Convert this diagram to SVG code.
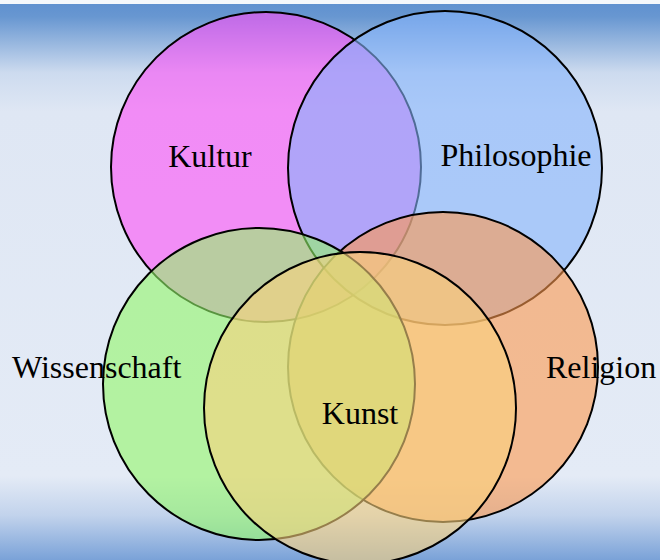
<svg xmlns="http://www.w3.org/2000/svg" width="660" height="560" viewBox="0 0 660 560">
  <defs>
    <linearGradient id="bg" x1="0" y1="0" x2="0" y2="1">
      <stop offset="0" stop-color="#5d8fcf"/>
      <stop offset="0.03" stop-color="#6897d1"/>
      <stop offset="0.13" stop-color="#cddbef"/>
      <stop offset="0.2" stop-color="#dfe7f4"/>
      <stop offset="0.85" stop-color="#e4ebf6"/>
      <stop offset="0.92" stop-color="#c2d3ec"/>
      <stop offset="1" stop-color="#7aa2d8"/>
    </linearGradient>
    <style>
      .c { stroke: #000; stroke-width: 2; fill-opacity: 0.6; }
      .t { font-family: "Liberation Serif", "Times New Roman", serif; font-size: 32px; fill: #000; }
    </style>
  </defs>
  <rect width="660" height="560" fill="url(#bg)"/>
  <rect width="660" height="4" fill="#f4f7fb"/>
  <g id="kultur"><circle class="c" cx="266" cy="167" r="155" fill="#fd50f7"/></g>
  <g id="philosophie"><circle class="c" cx="445" cy="168" r="157" fill="#85b4fc"/></g>
  <g id="religion"><circle class="c" cx="443" cy="367" r="155" fill="#fd994e"/></g>
  <g id="wissenschaft"><circle class="c" cx="259" cy="384" r="156" fill="#93f769"/></g>
  <g id="kunst"><circle class="c" cx="360" cy="408" r="156" fill="#fad27d" fill-opacity="0.55"/></g>
  <g id="connectors"/>
  <g id="labels">
    <text class="t" x="210" y="167" text-anchor="middle">Kultur</text>
    <text class="t" x="516" y="166" text-anchor="middle">Philosophie</text>
    <text class="t" x="12" y="378">Wissenschaft</text>
    <text class="t" x="546" y="378">Religion</text>
    <text class="t" x="360" y="424" text-anchor="middle">Kunst</text>
  </g>
</svg>
